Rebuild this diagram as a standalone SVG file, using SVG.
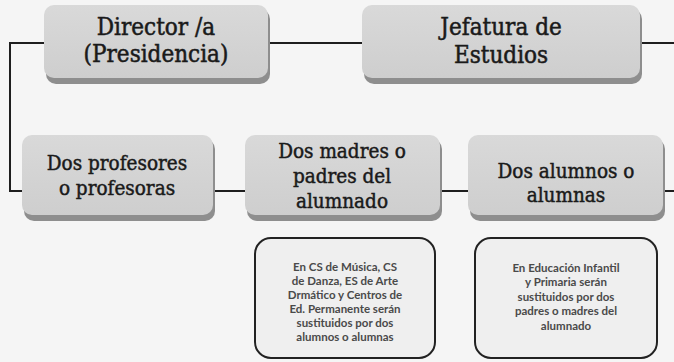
<svg xmlns="http://www.w3.org/2000/svg" width="674" height="362" viewBox="0 0 674 362">
<defs>
<linearGradient id="g" x1="0" y1="0" x2="0" y2="1">
<stop offset="0" stop-color="#d9d9d9"/>
<stop offset="1" stop-color="#cecece"/>
</linearGradient>
</defs>
<style>
.bx{fill:url(#g);}
.sh{fill:#8e8e8e;}
.t1{font-family:"DejaVu Serif Condensed","DejaVu Serif",serif;font-size:24px;fill:#1a1a1a;stroke:#1a1a1a;stroke-width:0.5;text-anchor:middle;}
.t2{font-family:"DejaVu Serif Condensed","DejaVu Serif",serif;font-size:20.5px;fill:#1a1a1a;stroke:#1a1a1a;stroke-width:0.45;text-anchor:middle;}
.nb{fill:#efefef;stroke:#222;stroke-width:2;}
.t3{font-family:Lato,"Liberation Sans",sans-serif;font-size:11.5px;font-weight:bold;fill:#4a4a4a;text-anchor:middle;}
.ln{stroke:#1e1e1e;stroke-width:2;fill:none;}
</style>
<rect width="674" height="362" fill="#f5f5f5"/>
<g id="connectors">
<path class="ln" d="M45 43H10V191H22"/>
<path class="ln" d="M268 43H362"/>
<path class="ln" d="M640 43H674"/>
<path class="ln" d="M213 191H245"/>
<path class="ln" d="M440 191H468"/>
<path class="ln" d="M663 191H674"/>
</g>
<g id="director">
<rect class="sh" x="46" y="9" width="224" height="75" rx="10"/>
<rect class="bx" x="44" y="5" width="224" height="73" rx="10"/>
<text class="t1" x="156" y="35">Director /a</text>
<text class="t1" x="156" y="62">(Presidencia)</text>
</g>
<g id="jefatura">
<rect class="sh" x="364" y="9" width="278" height="75" rx="10"/>
<rect class="bx" x="362" y="5" width="278" height="73" rx="10"/>
<text class="t1" x="501" y="35">Jefatura de</text>
<text class="t1" x="501" y="63">Estudios</text>
</g>
<g id="profesores">
<rect class="sh" x="24" y="139" width="191" height="82" rx="10"/>
<rect class="bx" x="22" y="135" width="191" height="80" rx="10"/>
<text class="t2" x="117" y="170">Dos profesores</text>
<text class="t2" x="117" y="195">o profesoras</text>
</g>
<g id="madres">
<rect class="sh" x="247" y="139" width="195" height="82" rx="10"/>
<rect class="bx" x="245" y="135" width="195" height="80" rx="10"/>
<text class="t2" x="342" y="158">Dos madres o</text>
<text class="t2" x="342" y="183">padres del</text>
<text class="t2" x="342" y="208">alumnado</text>
</g>
<g id="alumnos">
<rect class="sh" x="470" y="139" width="195" height="82" rx="10"/>
<rect class="bx" x="468" y="135" width="195" height="80" rx="10"/>
<text class="t2" x="566" y="178">Dos alumnos o</text>
<text class="t2" x="566" y="202">alumnas</text>
</g>
<g id="nota-cs">
<rect class="nb" x="255" y="238" width="180" height="120" rx="16"/>
<text class="t3" x="345" y="271">En CS de Música, CS</text>
<text class="t3" x="345" y="285">de Danza, ES de Arte</text>
<text class="t3" x="345" y="299">Drmático y Centros de</text>
<text class="t3" x="345" y="313">Ed. Permanente serán</text>
<text class="t3" x="345" y="327">sustituidos por dos</text>
<text class="t3" x="345" y="341">alumnos o alumnas</text>
</g>
<g id="nota-infantil">
<rect class="nb" x="475" y="238" width="182" height="120" rx="16"/>
<text class="t3" x="566" y="272">En Educación Infantil</text>
<text class="t3" x="566" y="286">y Primaria serán</text>
<text class="t3" x="566" y="301">sustituidos por dos</text>
<text class="t3" x="566" y="315">padres o madres del</text>
<text class="t3" x="566" y="330">alumnado</text>
</g>
</svg>
